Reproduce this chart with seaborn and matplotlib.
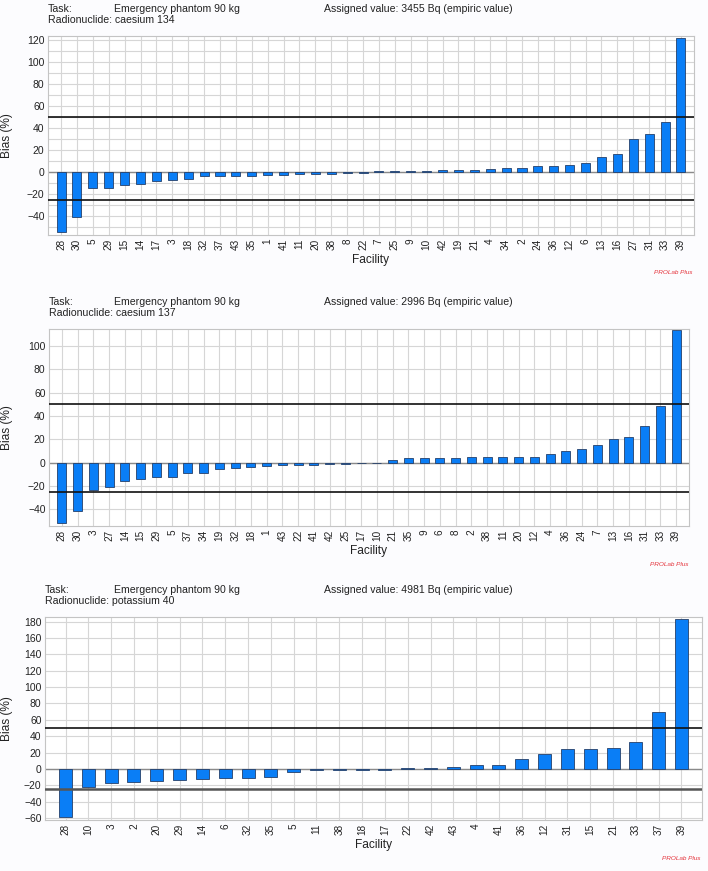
import matplotlib
matplotlib.use('Agg')
import matplotlib.pyplot as plt
from matplotlib.ticker import MultipleLocator
import seaborn as sns

sns.set_style('white')
plt.rcParams['font.family'] = ['Liberation Sans', 'DejaVu Sans']

# caesium 134
cs134_facility = ['28', '30', '5', '29', '15', '14', '17', '3', '18', '32', '37', '43', '35', '1',
                  '41', '11', '20', '38', '8', '22', '7', '25', '9', '10', '42', '19', '21', '4',
                  '34', '2', '24', '36', '12', '6', '13', '16', '27', '31', '33', '39']
cs134_bias = [-54.5, -41.0, -14.5, -14.5, -12.0, -10.6, -8.5, -7.6, -6.4, -3.9, -3.3, -3.3, -3.3, -3.0,
              -2.4, -2.1, -1.5, -1.5, -1.2, -0.6, 1.0, 1.0, 1.0, 1.0, 1.5, 1.5, 1.5, 3.0,
              3.6, 3.6, 5.5, 5.8, 6.7, 7.9, 14.0, 16.4, 30.3, 34.8, 45.5, 122.0]

# caesium 137
cs137_facility = ['28', '30', '3', '27', '14', '15', '29', '5', '37', '34', '19', '32', '18', '1',
                  '43', '22', '41', '42', '25', '17', '10', '21', '35', '9', '6', '8', '2', '38',
                  '11', '20', '12', '4', '36', '24', '7', '13', '16', '31', '33', '39']
cs137_bias = [-51.9, -41.3, -23.5, -20.6, -15.5, -14.0, -12.6, -12.0, -8.6, -8.6, -5.7, -4.3, -3.4, -2.9,
              -2.0, -1.7, -1.7, -1.1, -1.1, -0.6, -0.2, 2.0, 3.7, 3.7, 4.3, 4.3, 4.6, 4.6,
              4.6, 5.2, 5.2, 7.4, 9.7, 11.5, 14.9, 20.6, 21.8, 31.2, 48.4, 113.5]

# potassium 40
k40_facility = ['28', '10', '3', '2', '20', '29', '14', '6', '32', '35', '5', '11', '38', '18',
                '17', '22', '42', '43', '4', '41', '36', '12', '31', '15', '21', '33', '37', '39']
k40_bias = [-58.8, -22.4, -17.6, -16.3, -15.1, -13.9, -12.2, -11.4, -10.6, -9.4, -3.7, -1.6, -1.6, -1.2,
            -1.2, 1.2, 1.2, 2.9, 4.9, 4.9, 12.2, 18.4, 24.1, 24.1, 26.1, 33.5, 69.8, 183.3]

nuclides = ['caesium 134', 'caesium 137', 'potassium 40']
assigned = ['3455', '2996', '4981']
upper_limit = 50
lower_limit = -25

W, H = 708, 871
fig = plt.figure(figsize=(W / 100, H / 100), dpi=100, facecolor='#fcfcfe')

# pixel boxes: left, right, top, bottom
boxes = [(48, 694, 36, 235), (49, 689, 329, 526), (45, 702, 617, 820)]
ylims = [(-57.3, 123.8), (-54.4, 114.6), (-62.4, 185.7)]
yticks = [range(-40, 121, 20), range(-40, 101, 20), range(-60, 181, 20)]
xpad = [0.82, 0.82, 0.9]
panels = [(cs134_facility, cs134_bias), (cs137_facility, cs137_bias), (k40_facility, k40_bias)]

bar_color = '#0a7ef6'
grid_color = '#d6d6d6'

for i, (fac, bias) in enumerate(panels):
    l, r, t, b = boxes[i]
    ax = fig.add_axes([l / W, 1 - b / H, (r - l) / W, (b - t) / H])
    ax.set_facecolor('white')
    sns.barplot(x=fac, y=bias, order=fac, color=bar_color, saturation=1,
                edgecolor='#25406a', linewidth=0.6, width=0.57, ax=ax, zorder=2)
    ax.set_xlim(-xpad[i], len(fac) - 1 + xpad[i])
    ax.set_ylim(*ylims[i])
    ax.set_yticks(list(yticks[i]))
    if i == 0:
        ax.yaxis.set_minor_locator(MultipleLocator(10))
        ax.grid(axis='y', which='minor', color=grid_color, lw=0.8)
    ax.grid(axis='both', which='major', color=grid_color, lw=0.8)
    ax.set_axisbelow(True)
    ax.axhline(0, color='#8a8a8a', lw=1.0, zorder=1.5)
    ax.axhline(upper_limit, color='#111111', lw=1.2, zorder=3)
    ax.axhline(lower_limit, color='#111111' if i < 2 else '#555555', lw=1.2 if i < 2 else 1.8, zorder=3)
    ax.tick_params(axis='x', labelrotation=90, labelsize=7.2, length=0, pad=2.5, colors='#222222')
    ax.tick_params(axis='y', labelsize=7.5, length=0, pad=2.5, colors='#222222')
    ax.tick_params(axis='y', which='minor', length=0)
    for s in ax.spines.values():
        s.set_color('#c4c4c4')
        s.set_linewidth(0.8)
    ax.set_xlabel('')
    ax.set_ylabel('Bias (%)', fontsize=8.6, color='#222222')
    ax.yaxis.set_label_coords((13 - l) / (r - l), 0.5)

    # headers and footers
    fig.text(l / W, 1 - (t - 27) / H, 'Task:', fontsize=7.6, va='center', ha='left', color='#222222')
    fig.text(114 / W, 1 - (t - 27) / H, 'Emergency phantom 90 kg', fontsize=7.6, va='center', ha='left',
             color='#222222')
    fig.text(324 / W, 1 - (t - 27) / H, 'Assigned value: ' + assigned[i] + ' Bq (empiric value)',
             fontsize=7.6, va='center', ha='left', color='#222222')
    fig.text(l / W, 1 - (t - 16) / H, 'Radionuclide: ' + nuclides[i], fontsize=7.6, va='center',
             ha='left', color='#222222')
    fig.text((l + r) / 2 / W, 1 - (b + 25) / H, 'Facility', fontsize=8.6, va='center', ha='center',
             color='#222222')
    fig.text((r - 1) / W, 1 - (b + 38) / H, 'PROLab Plus', fontsize=4.6, style='italic',
             va='center', ha='right', color='#e5343c')

fig.savefig('out.png', dpi=100, facecolor=fig.get_facecolor())
